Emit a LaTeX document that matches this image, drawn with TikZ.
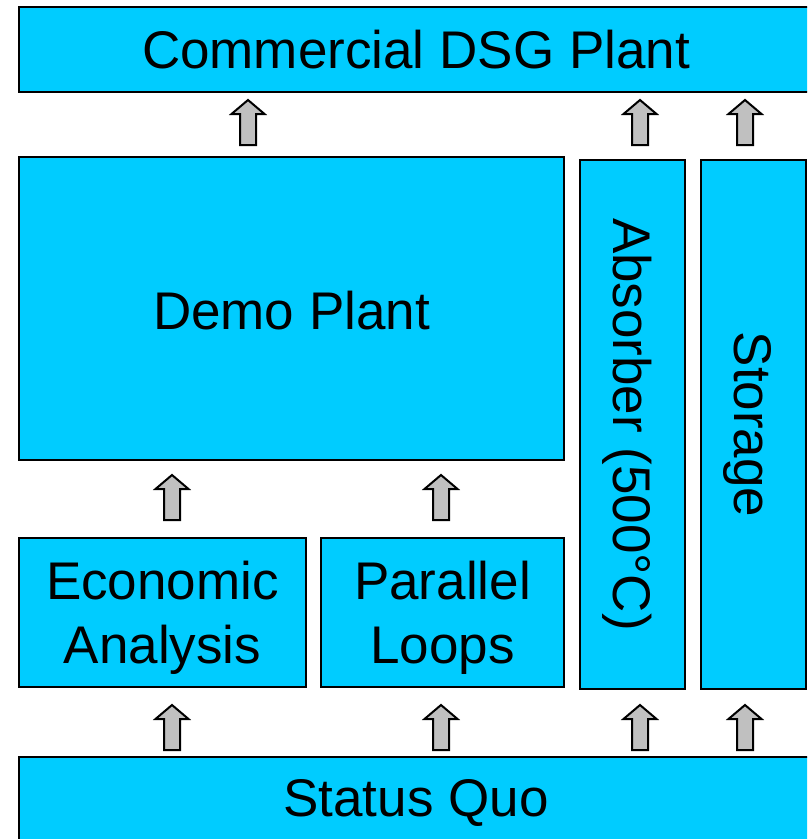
\documentclass[tikz,border=0pt]{standalone}
\usepackage{fontspec}
\setmainfont{Liberation Sans}
\definecolor{boxblue}{HTML}{00CCFF}
\definecolor{arrgray}{HTML}{C0C0C0}
\tikzset{
  blk/.style={draw=black, line width=2pt, fill=boxblue, inner sep=0pt, font=\fontsize{53}{64}\selectfont, align=center},
  txt/.style={inner sep=0pt, font=\fontsize{53}{64}\selectfont, align=center},
  uparr/.pic={\draw[line width=2pt, fill=arrgray, line join=miter] (-8,0) -- (-8,-31) -- (-16.5,-31) -- (0,-45) -- (16.5,-31) -- (8,-31) -- (8,0) -- cycle;}
}
\begin{document}
\begin{tikzpicture}[x=1pt,y=-1pt]
\useasboundingbox (0,0) rectangle (807,839);
\clip (0,0) rectangle (807,839);
\node[blk, minimum width=794pt, minimum height=85pt] (commercial) at (416,49.5) {Commercial DSG Plant};
\node[blk, minimum width=545pt, minimum height=303pt] (demo) at (291.5,308.5) {};
\node[txt, yshift=-2pt] (demotext) at (demo.center) {Demo Plant};
\node[blk, minimum width=105pt, minimum height=529pt] (absorber) at (632.5,424.5) {};
\node[txt, rotate=-90, yshift=-5pt] (abstext) at (absorber.center) {Absorber (500°C)};
\node[blk, minimum width=105pt, minimum height=529pt] (storage) at (753.5,424.5) {};
\node[txt, rotate=-90, yshift=-6pt] (stotext) at (storage.center) {Storage};
\node[blk, minimum width=287pt, minimum height=149pt] (econ) at (162.5,612.5) {};
\node[txt, yshift=-5pt] (econtext) at (econ.center) {Economic\\Analysis};
\node[blk, minimum width=243pt, minimum height=149pt] (loops) at (442.5,612.5) {};
\node[txt, yshift=-5pt] (loopstext) at (loops.center) {Parallel\\Loops};
\node[blk, minimum width=794pt, minimum height=92pt] (status) at (416,803) {};
\node[txt] (statustext) at (416,803) {Status Quo};
\pic at (248,145) {uparr};
\pic at (640,145) {uparr};
\pic at (745,145) {uparr};
\pic at (172,520) {uparr};
\pic at (441,520) {uparr};
\pic at (172,750) {uparr};
\pic at (441,750) {uparr};
\pic at (640,750) {uparr};
\pic at (745,750) {uparr};
\end{tikzpicture}
\end{document}
